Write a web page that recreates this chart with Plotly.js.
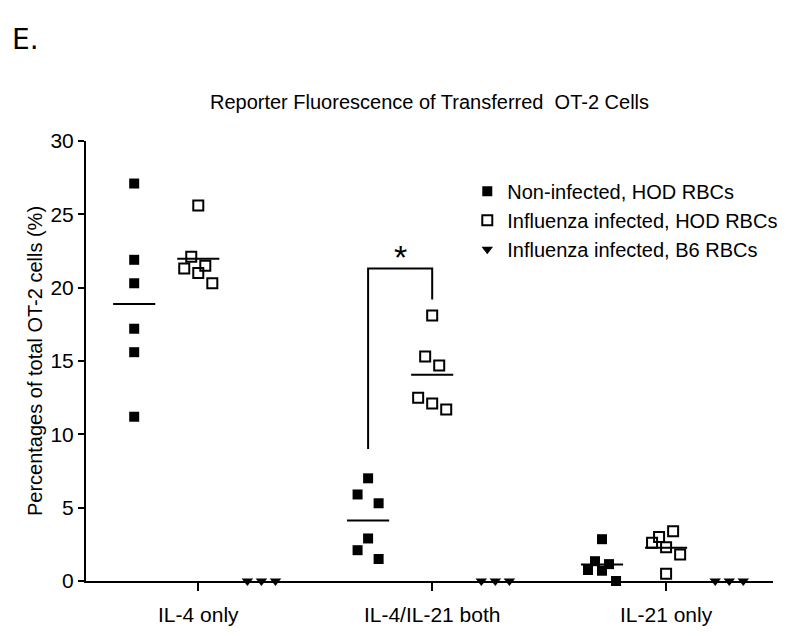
<!DOCTYPE html>
<html>
<head>
<meta charset="utf-8">
<script src="https://cdn.plot.ly/plotly-3.0.1.min.js"></script>
<style>html,body{margin:0;padding:0;background:#fff;}#chart{width:800px;height:636px;}</style>
</head>
<body>
<div id="chart"></div>
<script>
// ---- data ----
const categories = ["IL-4 only", "IL-4/IL-21 both", "IL-21 only"];
const seriesNames = ["Non-infected, HOD RBCs", "Influenza infected, HOD RBCs", "Influenza infected, B6 RBCs"];
// values (%) per category
const nonInfectedHOD = [
  [27.1, 21.9, 20.3, 17.2, 15.6, 11.2],
  [7.0, 5.9, 5.3, 2.9, 2.1, 1.5],
  [2.85, 1.35, 0.75, 0.7, 1.15, 0.0]
];
const fluInfectedHOD = [
  [25.6, 22.1, 21.3, 21.0, 21.5, 20.3],
  [18.1, 15.3, 14.7, 12.5, 12.1, 11.7],
  [3.4, 3.0, 2.6, 2.3, 1.8, 0.5]
];
const fluInfectedB6 = [
  [0, 0, 0],
  [0, 0, 0],
  [0, 0, 0]
];
// horizontal scatter rank of each point inside its column (as drawn in the figure)
const nonInfectedSpread = [
  [0, 0, 0, 0, 0, 0],
  [0, -1.5, 1.5, 0, -1.5, 1.5],
  [0, -1, -2, 0, 1, 2]
];
const fluHODSpread = [
  [0, -1, -2, 0, 1, 2],
  [0, -1, 1, -2, 0, 2],
  [1, -1, -2, 0, 2, 0]
];
const fluB6Spread = [
  [-2, 0, 2],
  [-2, 0, 2],
  [-2, 0, 2]
];

// ---- layout helpers ----
const groupOffset = [-0.274, 0, 0.27];
const spreadStep = 0.03;
const meanHalf = 0.09;

function xs(catIdx, g, spread) {
  return spread[catIdx].map(s => catIdx + groupOffset[g] + s * spreadStep);
}
function mean(a) { return a.reduce((p, c) => p + c, 0) / a.length; }

const groups = [
  {vals: nonInfectedHOD, spread: nonInfectedSpread, marker: {symbol: "square", size: 10, color: "#000"}},
  {vals: fluInfectedHOD, spread: fluHODSpread, marker: {symbol: "square-open", size: 10, color: "#000", line: {width: 2, color: "#000"}}},
  {vals: fluInfectedB6, spread: fluB6Spread, marker: {symbol: "triangle-down", size: 10, color: "#000"}}
];

const traces = [];
groups.forEach((grp, g) => {
  let X = [], Y = [];
  categories.forEach((c, i) => {
    X = X.concat(xs(i, g, grp.spread));
    Y = Y.concat(grp.vals[i]);
  });
  traces.push({
    type: "scatter", mode: "markers", name: seriesNames[g],
    x: X, y: Y, marker: grp.marker, cliponaxis: false, hoverinfo: "y"
  });
});
// mean lines (not for B6, all zero)
[0, 1].forEach(g => {
  categories.forEach((c, i) => {
    const m = mean(groups[g].vals[i]);
    const cx = i + groupOffset[g];
    traces.push({
      type: "scatter", mode: "lines", showlegend: false, hoverinfo: "skip",
      x: [cx - meanHalf, cx + meanHalf], y: [m, m],
      line: {color: "#000", width: 2}
    });
  });
});
// significance bracket between groups in IL-4/IL-21 both
const bi = 1;
const bx1 = bi + groupOffset[0], bx2 = bi + groupOffset[1];
const m1 = Math.max(...nonInfectedHOD[bi]), m2 = Math.max(...fluInfectedHOD[bi]);
const bTop = m2 + 3.2;
traces.push({
  type: "scatter", mode: "lines", showlegend: false, hoverinfo: "skip",
  x: [bx1, bx1, bx2, bx2], y: [m1 + 2.0, bTop, bTop, m2 + 1.1],
  line: {color: "#000", width: 2}
});

const fontFam = "Liberation Sans, Arial, sans-serif";
const layout = {
  width: 800, height: 636,
  margin: {l: 86, r: 27, t: 141, b: 55},
  paper_bgcolor: "#fff", plot_bgcolor: "#fff",
  font: {family: fontFam, color: "#000", size: 18},
  title: {
    text: "Reporter Fluorescence of Transferred  OT-2 Cells",
    font: {family: fontFam, size: 20, color: "#000"},
    xref: "paper", x: 0.5, xanchor: "center", y: 1 - 102 / 636, yanchor: "middle"
  },
  showlegend: true,
  legend: {
    x: 0.555, y: 0.93, xanchor: "left", yanchor: "top",
    font: {family: fontFam, size: 20, color: "#000"},
    bgcolor: "rgba(0,0,0,0)", itemwidth: 30, tracegroupgap: 0
  },
  xaxis: {
    range: [-0.48, 2.457],
    tickmode: "array", tickvals: categories.map((c, i) => i), ticktext: categories,
    showline: true, linewidth: 2, linecolor: "#000",
    ticks: "outside", ticklen: 8, tickwidth: 2, tickcolor: "#000",
    ticklabelstandoff: 6,
    showgrid: false, zeroline: false,
    tickfont: {family: fontFam, size: 21, color: "#000"}
  },
  yaxis: {
    range: [0, 30], tickvals: [0, 5, 10, 15, 20, 25, 30],
    showline: true, linewidth: 2, linecolor: "#000",
    ticks: "outside", ticklen: 6, tickwidth: 2, tickcolor: "#000",
    showgrid: false, zeroline: false, automargin: true,
    tickfont: {family: fontFam, size: 21, color: "#000"},
    title: {text: "Percentages of total OT-2 cells (%)", font: {family: fontFam, size: 20, color: "#000"}, standoff: 2}
  },
  annotations: [
    {xref: "x", yref: "y", x: (bx1 + bx2) / 2, y: bTop, text: "*", showarrow: false,
     yanchor: "bottom", yshift: -9, font: {family: fontFam, size: 34, color: "#000"}},
    {xref: "paper", yref: "paper", x: (10 - 86) / 687, y: (581 - 58) / 440, xanchor: "left", yanchor: "bottom",
     text: "E.", showarrow: false, font: {family: "DejaVu Sans", size: 28, color: "#000"}}
  ]
};

Plotly.newPlot("chart", traces, layout, {displayModeBar: false, staticPlot: true});
</script>
</body>
</html>
